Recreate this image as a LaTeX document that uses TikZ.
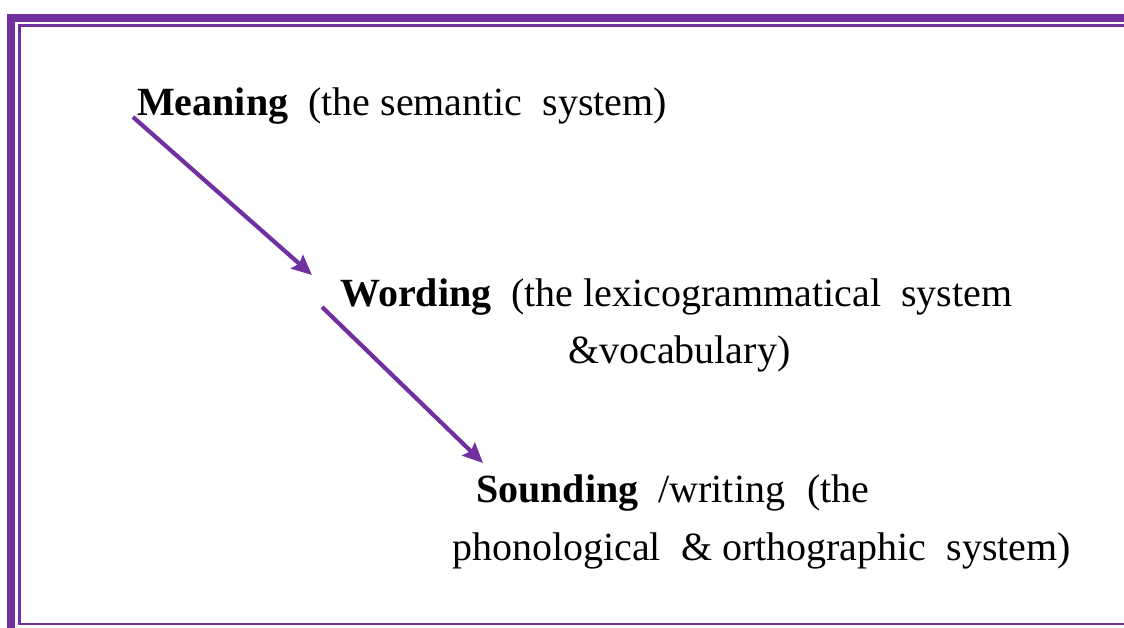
\documentclass[tikz,border=0pt]{standalone}
\usepackage{fontspec}
\setmainfont{Liberation Serif}
\usetikzlibrary{arrows.meta}
\definecolor{Plum}{HTML}{7030A0}

\tikzset{
  level/.style={anchor=base west,inner sep=0pt,font=\fontsize{40}{46}\selectfont},
  flow/.style={Plum,line width=4.2pt,-{Stealth[length=20pt,width=18pt,inset=3pt]}}
}

\begin{document}
\begin{tikzpicture}[x=1pt,y=-1pt]
      \useasboundingbox (0,0) rectangle (1124,628);
      % page border, thick outside and thin inside
      \draw[Plum,line width=8pt] (11.3,628) -- (11.3,18) -- (1124,18);
      \draw[Plum,line width=2.6pt] (1124,25.5) -- (19.5,25.5) -- (19.5,624) -- (1124,624);
      \node[level] (meaning) at (137,116) {\textbf{Meaning}\ \ (the semantic\ \ system)};
      \node[level] (wording) at (340,306) {\textbf{Wording}\ \ (the lexicogrammatical\ \ system};
      \node[level] (vocab) at (568,363) {\&vocabulary)};
      \node[level] (sounding) at (476,502) {\textbf{Sounding}\ \ /writing\hspace{22pt}(the};
      \node[level] (phon) at (452,560) {phonological\ \ \& orthographic\ \ system)};
      \draw[flow] ([shift={(-4,1)}]meaning.base west) -- ([shift={(-28,-31)}]wording.base west);
      \draw[flow] ([shift={(-18,1)}]wording.base west) -- ([shift={(7,-39)}]sounding.base west);
    \end{tikzpicture}
\end{document}
